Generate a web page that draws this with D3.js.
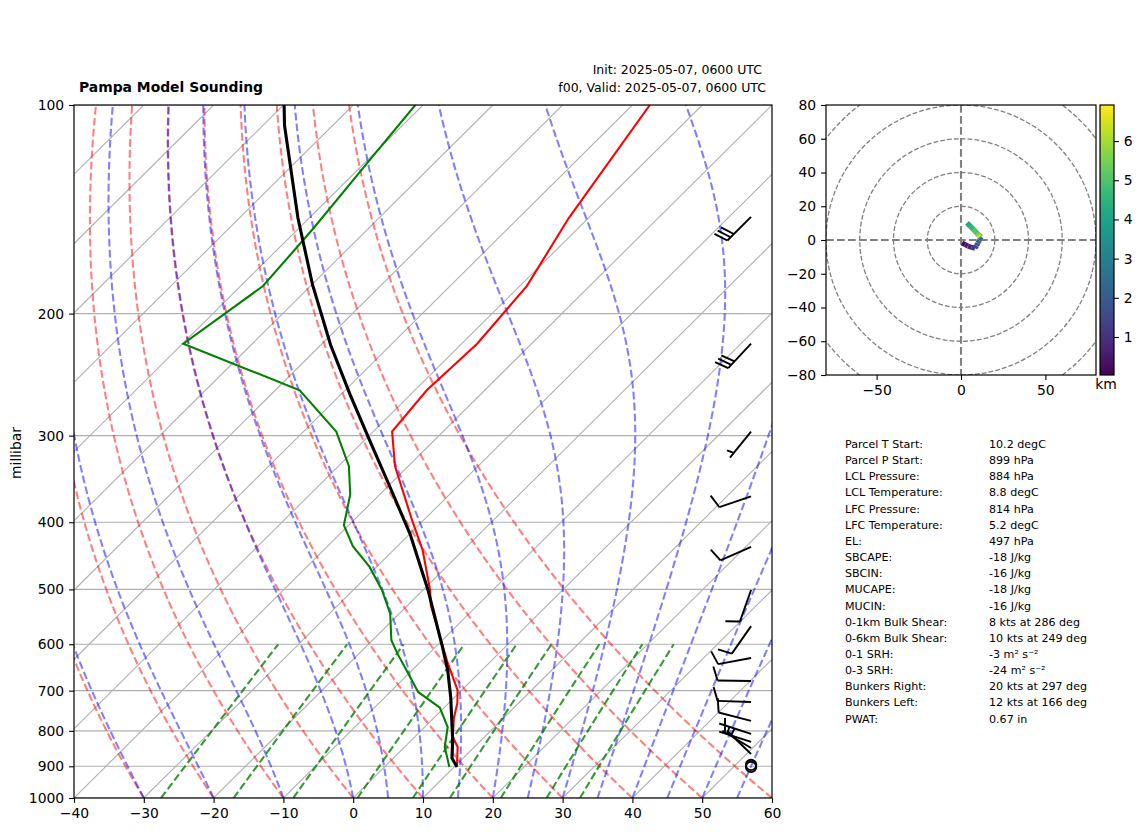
<!DOCTYPE html>
<html>
<head>
<meta charset="utf-8">
<script src="https://cdn.jsdelivr.net/npm/d3@7"></script>
<style>
html,body{margin:0;padding:0;background:#fff}
svg{display:block}
text{font-family:"DejaVu Sans",sans-serif;fill:#000}
.tick text{font-size:13.9px;font-family:"DejaVu Sans",sans-serif;fill:#000}
.tick line{stroke:#000;stroke-width:1.1px}
</style>
</head>
<body>
<svg id="chart" width="1142" height="832"></svg>
<script>
// ---------- sounding data ----------
const tempP   = [100,145.6,182.5,221,258,296,332,397,439,501,527,592,639,699,729,767,817,844,896];
const tempC   = [-57.5,-52.8,-49.0,-47.8,-48.3,-47.3,-41.9,-31.7,-25.8,-19.0,-16.7,-10.2,-5.9,-0.6,1.2,2.9,5.5,7.6,10.1];
const dewP    = [100,120,150.5,182.5,221,258,296,332,365,404,433,464,501,542,592,618,660,703,741,790,844,902];
const dewC    = [-91.1,-89.7,-87.9,-86.8,-89.9,-66.5,-55.3,-48.5,-44.2,-40.7,-36.4,-31,-25.9,-21.3,-17.3,-14.6,-10.2,-6,-0.6,3.3,5.75,9.3];
const parcelP = [100,107,145.6,182,222,262,304,357,417,501,601,654,715,825,876,902];
const parcelC = [-109.9,-106.9,-91.6,-79.8,-68.6,-58.6,-49.4,-39.4,-29.8,-19.3,-9.4,-4.9,-0.6,5.9,8.4,10.4];
// wind barbs: level, speed (kt), direction the wind blows from (deg)
const barbP   = [145,221,296,367,434,501,565,628,678,727,774,808,830,847,864,896,902];
const barbKt  = [30,30,5,10,10,10,10,10,10,10,10,5,5,5,5,0,0];
const barbDir = [225,223,219,251,246,199.5,215,259.4,271,272,284.5,288,288,301,314,0,0];
// hodograph
const hodoU = [0.6,2.4,4.1,6.2,8.3,9.2,10,11,11.9,10,8.3,6,3.6,5.3,7.1,9.2,10.3,11.3];
const hodoV = [-1.8,-2.7,-3.6,-4.3,-4.9,-3.4,-1.8,-0.2,1.8,3.5,5.3,7.7,10.1,8.3,6.5,4.2,3,1.8];
const hodoH = [0.03,0.3,0.6,0.9,1.2,1.6,2.0,2.4,2.8,3.1,3.4,3.7,4.1,4.4,4.8,5.3,5.8,6.9];
const hodoRings = [20,40,60,80,100];
// thermodynamic background families
const isotherms   = d3.range(-140,70,10);
const pressureTicks = [100,200,300,400,500,600,700,800,900,1000];
const tempTicks   = [-40,-30,-20,-10,0,10,20,30,40,50,60];
const dryT0       = [-30,-20,-10,0,10,20,30,40,50,60];
const moistT0     = [-30,-20,-10,0,5,10,15,20,25,30,35,40,45,50,55];
const mixingW     = [0.0004,0.001,0.002,0.004,0.007,0.01,0.016,0.024,0.032];
// text panel
const statLabels = ["Parcel T Start:","Parcel P Start:","LCL Pressure:","LCL Temperature:","LFC Pressure:","LFC Temperature:","EL:","SBCAPE:","SBCIN:","MUCAPE:","MUCIN:","0-1km Bulk Shear:","0-6km Bulk Shear:","0-1 SRH:","0-3 SRH:","Bunkers Right:","Bunkers Left:","PWAT:"];
const statValues = ["10.2 degC","899 hPa","884 hPa","8.8 degC","814 hPa","5.2 degC","497 hPa","-18 J/kg","-16 J/kg","-18 J/kg","-16 J/kg","8 kts at 286 deg","10 kts at 249 deg","-3 m² s⁻²","-24 m² s⁻²","20 kts at 297 deg","12 kts at 166 deg","0.67 in"];

// ---------- layout ----------
const L=74,R=772,T=105,B=798;
const svg=d3.select("#chart");
const x=d3.scaleLinear().domain([-40,60]).range([L,R]);
const y=d3.scaleLog().domain([1000,100]).range([B,T]);
const SKEW=100; // deg C per pressure decade
const sx=(t,p)=>x(t+SKEW*Math.log10(1000/p));
const skewLine=d3.line().x(d=>sx(d[0],d[1])).y(d=>y(d[1]));
svg.append("defs").append("clipPath").attr("id","skewClip").append("rect").attr("x",L).attr("y",T).attr("width",R-L).attr("height",B-T);
const plot=svg.append("g").attr("clip-path","url(#skewClip)");

const levels=d3.range(0,181).map(i=>1000*Math.pow(10,-i/180));
const mixLevels=d3.range(0,41).map(i=>1000-i*10);

// isotherms + pressure grid
plot.selectAll(".iso").data(isotherms).join("line").attr("class","iso")
 .attr("x1",t=>sx(t,1000)).attr("y1",y(1000)).attr("x2",t=>sx(t,100)).attr("y2",y(100))
 .attr("stroke","#b0b0b0").attr("stroke-width",1.1);
plot.selectAll(".pg").data(pressureTicks).join("line").attr("class","pg")
 .attr("x1",L).attr("x2",R).attr("y1",p=>y(p)).attr("y2",p=>y(p))
 .attr("stroke","#b0b0b0").attr("stroke-width",1.1);

// dry adiabats
const KAPPA=0.2857;
plot.selectAll(".dry").data(dryT0).join("path").attr("class","dry")
 .attr("d",t0=>skewLine(levels.map(p=>[(t0+273.15)*Math.pow(p/1000,KAPPA)-273.15,p])))
 .attr("fill","none").attr("stroke","#ff0000").attr("stroke-opacity",0.5).attr("stroke-width",2.08).attr("stroke-dasharray","7.7 3.3");

// moist adiabats (integrated pseudo-adiabatic lapse rate)
function moistSlope(Tk,p){
  const Rd=287.05,Cp=1005,Lv=2.501e6,eps=0.622;
  const tc=Tk-273.15, es=6.112*Math.exp(17.67*tc/(tc+243.5)), rs=eps*es/(p-es);
  return (Rd*Tk+Lv*rs)/(Cp+Lv*Lv*rs*eps/(Rd*Tk*Tk));
}
function moistProfile(t0){
  let Tk=t0+273.15; const out=[[t0,levels[0]]];
  for(let i=1;i<levels.length;i++){
    const p0=levels[i-1],p1=levels[i],h=Math.log(p1/p0),pm=Math.sqrt(p0*p1);
    const k1=moistSlope(Tk,p0),k2=moistSlope(Tk+h*k1/2,pm),k3=moistSlope(Tk+h*k2/2,pm),k4=moistSlope(Tk+h*k3,p1);
    Tk+=h*(k1+2*k2+2*k3+k4)/6;
    out.push([Tk-273.15,p1]);
  }
  return out;
}
plot.selectAll(".moist").data(moistT0).join("path").attr("class","moist")
 .attr("d",t0=>skewLine(moistProfile(t0)))
 .attr("fill","none").attr("stroke","#0000ff").attr("stroke-opacity",0.5).attr("stroke-width",2.08).attr("stroke-dasharray","7.7 3.3");

// mixing ratio lines
function dewFromW(w,p){const e=p*w/(0.622+w),l=Math.log(e/6.112);return 243.5*l/(17.67-l);}
plot.selectAll(".mix").data(mixingW).join("path").attr("class","mix")
 .attr("d",w=>skewLine(mixLevels.map(p=>[dewFromW(w,p),p])))
 .attr("fill","none").attr("stroke","#008000").attr("stroke-opacity",0.8).attr("stroke-width",2.08).attr("stroke-dasharray","7.7 3.3");

// profiles
const zip=(a,b)=>a.map((v,i)=>[v,b[i]]);
plot.append("path").attr("d",skewLine(zip(tempC,tempP))).attr("fill","none").attr("stroke","#ff0000").attr("stroke-width",2.08);
plot.append("path").attr("d",skewLine(zip(dewC,dewP))).attr("fill","none").attr("stroke","#008000").attr("stroke-width",2.08);
plot.append("path").attr("d",skewLine(zip(parcelC,parcelP))).attr("fill","none").attr("stroke","#000").attr("stroke-width",3.1);

// wind barbs
const barbX=L+0.97*(R-L), STAFF=33.5, FULL=14.5, GAP=4.6, TILT=72*Math.PI/180;
const barbs=svg.append("g").attr("stroke","#000").attr("stroke-width",1.9).attr("fill","none").attr("stroke-linecap","butt");
barbP.forEach((p,i)=>{
  const by=y(p), kt=barbKt[i];
  if(kt===0){ barbs.append("circle").attr("cx",barbX).attr("cy",by).attr("r",5.2); return; }
  const a=barbDir[i]*Math.PI/180, ux=Math.sin(a), uy=-Math.cos(a);
  const ex=barbX+ux*STAFF, ey=by+uy*STAFF;
  barbs.append("line").attr("x1",barbX).attr("y1",by).attr("x2",ex).attr("y2",ey);
  const tx=ux*Math.cos(TILT)-uy*Math.sin(TILT), ty=ux*Math.sin(TILT)+uy*Math.cos(TILT);
  const nFull=Math.floor(kt/10), half=(kt%10)>=5;
  let off=0;
  for(let n=0;n<nFull;n++){
    const px=ex-ux*off,py=ey-uy*off;
    barbs.append("line").attr("x1",px).attr("y1",py).attr("x2",px+tx*FULL).attr("y2",py+ty*FULL);
    off+=GAP;
  }
  if(half){
    if(nFull===0) off=GAP+1.5;
    const px=ex-ux*off,py=ey-uy*off;
    barbs.append("line").attr("x1",px).attr("y1",py).attr("x2",px+tx*FULL/2).attr("y2",py+ty*FULL/2);
  }
});

// axes + frame
const axL=svg.append("g").attr("transform",`translate(${L},0)`).call(d3.axisLeft(y).tickValues(pressureTicks).tickFormat(d3.format("d")).tickSize(4.9).tickPadding(4.9));
axL.select(".domain").remove();
const axB=svg.append("g").attr("transform",`translate(0,${B})`).call(d3.axisBottom(x).tickValues(tempTicks).tickFormat(d3.format("d")).tickSize(4.9).tickPadding(4.9));
axB.select(".domain").remove();
svg.append("rect").attr("x",L).attr("y",T).attr("width",R-L).attr("height",B-T).attr("fill","none").attr("stroke","#000").attr("stroke-width",1.2);
svg.append("text").attr("transform","translate(20.5,453) rotate(-90)").attr("text-anchor","middle").style("font-size","13.9px").text("millibar");

// titles
svg.append("text").attr("x",79).attr("y",92).style("font-size","13.9px").style("font-weight","bold").text("Pampa Model Sounding");
svg.append("text").attr("x",762).attr("y",74).attr("text-anchor","end").style("font-size","12.5px").text("Init: 2025-05-07, 0600 UTC");
svg.append("text").attr("x",766).attr("y",92).attr("text-anchor","end").style("font-size","12.5px").text("f00, Valid: 2025-05-07, 0600 UTC");

// hodograph
const HL=826,HR=1096,HT=105,HB=375;
const hx=d3.scaleLinear().domain([-80,80]).range([HL,HR]);
const hy=d3.scaleLinear().domain([-80,80]).range([HB,HT]);
const hc=d3.scaleSequential(d3.interpolateViridis).domain([0.03,6.92]);
svg.select("defs").append("clipPath").attr("id","hodoClip").append("rect").attr("x",HL).attr("y",HT).attr("width",HR-HL).attr("height",HB-HT);
const hodo=svg.append("g").attr("clip-path","url(#hodoClip)");
hodo.selectAll("circle").data(hodoRings).join("circle").attr("cx",hx(0)).attr("cy",hy(0))
 .attr("r",d=>hx(d)-hx(0)).attr("fill","none").attr("stroke","#808080").attr("stroke-width",1.3).attr("stroke-dasharray","4.8 2.1");
hodo.append("line").attr("x1",HL).attr("x2",HR).attr("y1",hy(0)).attr("y2",hy(0)).attr("stroke","#808080").attr("stroke-width",2.1).attr("stroke-dasharray","7.7 3.3");
hodo.append("line").attr("y1",HT).attr("y2",HB).attr("x1",hx(0)).attr("x2",hx(0)).attr("stroke","#808080").attr("stroke-width",2.1).attr("stroke-dasharray","7.7 3.3");
hodoU.slice(1).forEach((u,i)=>{
  hodo.append("line").attr("x1",hx(hodoU[i])).attr("y1",hy(hodoV[i])).attr("x2",hx(u)).attr("y2",hy(hodoV[i+1]))
   .attr("stroke",hc((hodoH[i]+hodoH[i+1])/2)).attr("stroke-width",5).attr("stroke-linecap","butt");
});
const hax=svg.append("g").attr("transform",`translate(0,${HB})`).call(d3.axisBottom(hx).tickValues([-50,0,50]).tickSize(4.9).tickPadding(4.9));
hax.select(".domain").remove();
const hay=svg.append("g").attr("transform",`translate(${HL},0)`).call(d3.axisLeft(hy).tickValues(d3.range(-80,81,20)).tickSize(4.9).tickPadding(4.9));
hay.select(".domain").remove();
svg.append("rect").attr("x",HL).attr("y",HT).attr("width",HR-HL).attr("height",HB-HT).attr("fill","none").attr("stroke","#000").attr("stroke-width",1.2);

// colour bar
const CL=1100,CR=1114;
const grad=svg.select("defs").append("linearGradient").attr("id","vir").attr("x1",0).attr("x2",0).attr("y1",1).attr("y2",0);
d3.range(0,1.001,0.05).forEach(t=>grad.append("stop").attr("offset",t).attr("stop-color",d3.interpolateViridis(t)));
svg.append("rect").attr("x",CL).attr("y",HT).attr("width",CR-CL).attr("height",HB-HT).attr("fill","url(#vir)").attr("stroke","#000").attr("stroke-width",1.2);
const cy=d3.scaleLinear().domain([0.03,6.92]).range([HB,HT]);
const cax=svg.append("g").attr("transform",`translate(${CR},0)`).call(d3.axisRight(cy).tickValues([1,2,3,4,5,6]).tickFormat(d3.format("d")).tickSize(4.9).tickPadding(4.9));
cax.select(".domain").remove();
svg.append("text").attr("x",1106).attr("y",389).attr("text-anchor","middle").style("font-size","13.9px").text("km");

// statistics panel
const statY=d3.scalePoint().domain(d3.range(statLabels.length)).range([448,719+3.6]);
svg.append("g").selectAll("text").data(statLabels).join("text").attr("x",845).attr("y",(d,i)=>statY(i)).style("font-size","11.1px").text(d=>d);
svg.append("g").selectAll("text").data(statValues).join("text").attr("x",989).attr("y",(d,i)=>statY(i)).style("font-size","11.1px").text(d=>d);
</script>
</body>
</html>
